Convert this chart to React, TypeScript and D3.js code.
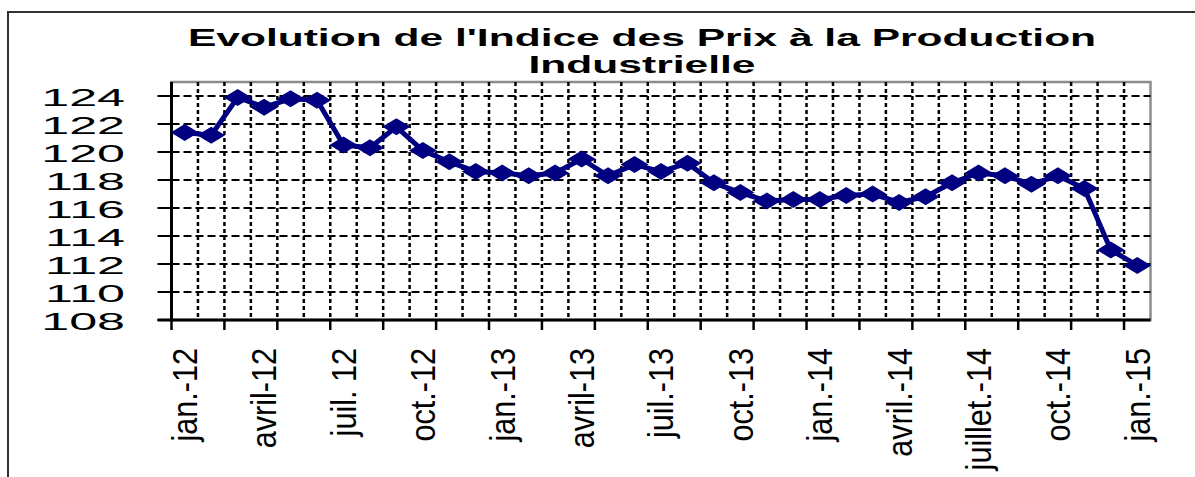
import React, { useEffect, useRef } from 'react';
import { select, scaleBand, scaleLinear, line, range } from 'd3';

// monthly index values, jan.-12 .. jan.-15
const months = [
  "jan.-12", "févr.-12", "mars-12", "avril-12", "mai-12", "juin-12",
  "juil. 12", "août-12", "sept.-12", "oct.-12", "nov.-12", "déc.-12",
  "jan.-13", "févr.-13", "mars-13", "avril-13", "mai-13", "juin-13",
  "juil.-13", "août-13", "sept.-13", "oct.-13", "nov.-13", "déc.-13",
  "jan.-14", "févr.-14", "mars-14", "avril.-14", "mai-14", "juin-14",
  "juillet.-14", "août-14", "sept.-14", "oct.-14", "nov.-14", "déc.-14",
  "jan.-15"
];

const values = [
  121.4, 121.2, 123.9, 123.2, 123.8, 123.7,
  120.5, 120.3, 121.8, 120.1, 119.3, 118.6,
  118.5, 118.3, 118.5, 119.5, 118.3, 119.1,
  118.6, 119.2, 117.8, 117.1, 116.5, 116.6,
  116.6, 116.9, 117.0, 116.4, 116.8, 117.8,
  118.5, 118.3, 117.7, 118.3, 117.4, 113.0,
  111.9
];

const yTicks = [108, 110, 112, 114, 116, 118, 120, 122, 124];
const titleLines = ["Evolution de l'Indice des Prix à la Production", "Industrielle"];

export default function App() {
  const ref = useRef<SVGSVGElement>(null);

  const width = 1195;
  const height = 477;
  const navy = "#000080";
  const SX = 1.85; // the picture is stretched sideways
  const font = "Arial, 'Liberation Sans', sans-serif";

  useEffect(() => {
    const svg = select(ref.current);
    svg.selectAll("*").remove();

    const plot = { left: 171.5, right: 1150.5, top: 82, bottom: 320 };

    const x = scaleBand<number>()
      .domain(range(months.length))
      .range([plot.left, plot.right])
      .padding(0);
    const y = scaleLinear().domain([108, 125]).range([plot.bottom, plot.top]);
    const bw = x.bandwidth();
    const cx = (i: number) => (x(i) as number) + bw / 2;

    svg.append("rect").attr("width", width).attr("height", height).attr("fill", "white");

    // chart frame (runs off the picture right and bottom)
    svg.append("rect")
      .attr("x", 8).attr("y", 12)
      .attr("width", 1300).attr("height", 600)
      .attr("fill", "none").attr("stroke", "#333").attr("stroke-width", 2);

    // title
    svg.selectAll("text.title")
      .data(titleLines)
      .join("text")
      .attr("class", "title")
      .attr("transform", (d, i) => `translate(642,${46 + i * 26.5}) scale(${SX},1)`)
      .attr("text-anchor", "middle")
      .style("font-family", font)
      .style("font-weight", "bold")
      .style("font-size", "23px")
      .text(d => d);

    // plot border (gray top/right)
    svg.append("rect")
      .attr("x", plot.left).attr("y", plot.top)
      .attr("width", plot.right - plot.left).attr("height", plot.bottom - plot.top)
      .attr("fill", "none").attr("stroke", "#8c8c8c").attr("stroke-width", 2.5);

    // vertical dotted gridlines at category boundaries
    svg.selectAll("line.vgrid")
      .data(range(1, months.length))
      .join("line")
      .attr("class", "vgrid")
      .attr("x1", d => x(d) as number).attr("x2", d => x(d) as number)
      .attr("y1", plot.top).attr("y2", plot.bottom)
      .attr("stroke", "black").attr("stroke-width", 2.5)
      .attr("stroke-dasharray", "4,3");

    // horizontal dashed gridlines
    svg.selectAll("line.hgrid")
      .data(yTicks.filter(d => d > 108))
      .join("line")
      .attr("class", "hgrid")
      .attr("x1", plot.left).attr("x2", plot.right)
      .attr("y1", d => y(d)).attr("y2", d => y(d))
      .attr("stroke", "black").attr("stroke-width", 2)
      .attr("stroke-dasharray", "8,4");

    // y ticks
    svg.selectAll("line.ytick")
      .data(yTicks)
      .join("line")
      .attr("class", "ytick")
      .attr("x1", plot.left - 14).attr("x2", plot.left)
      .attr("y1", d => y(d)).attr("y2", d => y(d))
      .attr("stroke", "black").attr("stroke-width", 2);

    // x ticks every two categories
    svg.selectAll("line.xtick")
      .data(range(0, months.length + 1, 2))
      .join("line")
      .attr("class", "xtick")
      .attr("x1", d => plot.left + d * bw).attr("x2", d => plot.left + d * bw)
      .attr("y1", plot.bottom).attr("y2", plot.bottom + 10)
      .attr("stroke", "black").attr("stroke-width", 2.5);

    // axes
    svg.append("line")
      .attr("x1", plot.left).attr("x2", plot.left)
      .attr("y1", plot.top).attr("y2", plot.bottom + 1.5)
      .attr("stroke", "black").attr("stroke-width", 3);
    svg.append("line")
      .attr("x1", plot.left - 14).attr("x2", plot.right)
      .attr("y1", plot.bottom).attr("y2", plot.bottom)
      .attr("stroke", "black").attr("stroke-width", 3);

    // y labels
    svg.selectAll("text.ylab")
      .data(yTicks)
      .join("text")
      .attr("class", "ylab")
      .attr("transform", d => `translate(125,${y(d) + 1}) scale(2.05,1)`)
      .attr("text-anchor", "end")
      .attr("dominant-baseline", "central")
      .style("font-family", font)
      .style("font-size", "24.5px")
      .text(d => d);

    // x labels, every third month
    svg.selectAll("text.xlab")
      .data(range(0, months.length, 3))
      .join("text")
      .attr("class", "xlab")
      .attr("transform", d => `translate(${cx(d)},348) rotate(-90) scale(0.85,1)`)
      .attr("text-anchor", "end")
      .attr("dominant-baseline", "central")
      .style("font-family", font)
      .style("font-size", "36px")
      .text(d => months[d]);

    // series line
    const path = line<number>()
      .x((d, i) => cx(i))
      .y(d => y(d));
    svg.append("path")
      .datum(values)
      .attr("d", path)
      .attr("fill", "none")
      .attr("stroke", navy)
      .attr("stroke-width", 5)
      .attr("stroke-linejoin", "round");

    // diamond markers
    svg.selectAll("path.marker")
      .data(values)
      .join("path")
      .attr("class", "marker")
      .attr("transform", (d, i) => `translate(${cx(i)},${y(d)})`)
      .attr("d", "M-14,0L0,-8.5L14,0L0,8.5Z")
      .attr("fill", navy);
  }, []);

  return (
    <svg ref={ref} width={width} height={height}
      style={{ position: "absolute", left: 0, top: 0, display: "block" }} />
  );
}
